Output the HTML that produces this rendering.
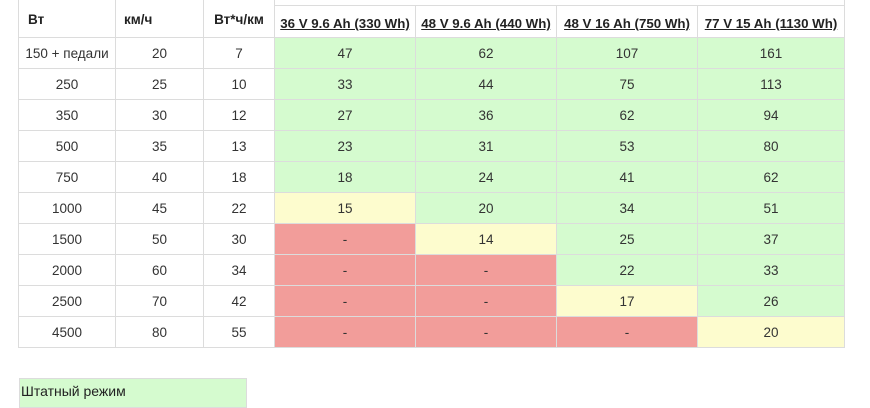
<!DOCTYPE html>
<html><head><meta charset="utf-8"><style>
body{margin:0;width:870px;height:400px;background:#fff;overflow:hidden;position:relative;font-family:"Liberation Sans","DejaVu Sans",sans-serif;color:#333;font-size:13.5px}
.c{position:absolute;box-sizing:border-box;display:flex;align-items:center;justify-content:center;border:1px solid #dcdcdc;margin:-1px 0 0 -1px}
.g{background:#d5fbcf}.y{background:#fdfcce}.r{background:#f29d9a}
.h{font-weight:bold;font-size:13.5px;color:#222}
.u{text-decoration:underline;font-weight:bold;font-size:13.3px;color:#222;align-items:flex-end;padding-bottom:6px}
</style></head><body>
<div id="t"></div>
<div style="position:absolute;left:19px;top:378px;width:228px;height:30px;background:#d5fbcf;border:1px solid #dcdcdc;box-sizing:border-box;font-size:14px;padding:4px 0 0 1px;color:#222">Штатный режим</div>
<script>
var X=[19,116,204,275,416,557,698,845];
var rows=[["150 + педали",20,7,"47g","62g","107g","161g"],["250",25,10,"33g","44g","75g","113g"],["350",30,12,"27g","36g","62g","94g"],["500",35,13,"23g","31g","53g","80g"],["750",40,18,"18g","24g","41g","62g"],["1000",45,22,"15y","20g","34g","51g"],["1500",50,30,"-r","14y","25g","37g"],["2000",60,34,"-r","-r","22g","33g"],["2500",70,42,"-r","-r","17y","26g"],["4500",80,55,"-r","-r","-r","20y"]];
var h="";
function cell(x1,x2,y1,y2,cls,txt,st){h+='<div class="c '+cls+'" style="left:'+x1+'px;top:'+y1+'px;width:'+(x2-x1+1)+'px;height:'+(y2-y1+1)+'px;'+(st||'')+'">'+txt+'</div>';}
cell(19,116,-20,38,"h","Вт","justify-content:flex-start;padding:22px 0 0 9px;");
cell(116,204,-20,38,"h","км/ч","justify-content:flex-start;padding:22px 0 0 8px;");
cell(204,275,-20,38,"h","Вт*ч/км","padding-top:22px;");
cell(275,845,-20,6,"","");
var hd=["36 V 9.6 Ah (330 Wh)","48 V 9.6 Ah (440 Wh)","48 V 16 Ah (750 Wh)","77 V 15 Ah (1130 Wh)"];
for(var i=0;i<4;i++)cell(X[3+i],X[4+i],6,38,"u",hd[i]);
for(var r=0;r<10;r++){var y1=38+r*31,y2=y1+31;for(var c=0;c<7;c++){var v=String(rows[r][c]),cls="";if(c>=3){cls=v.slice(-1);v=v.slice(0,-1);}cell(X[c],X[c+1],y1,y2,cls,v);}}
document.getElementById("t").innerHTML=h;
</script>
</body></html>
